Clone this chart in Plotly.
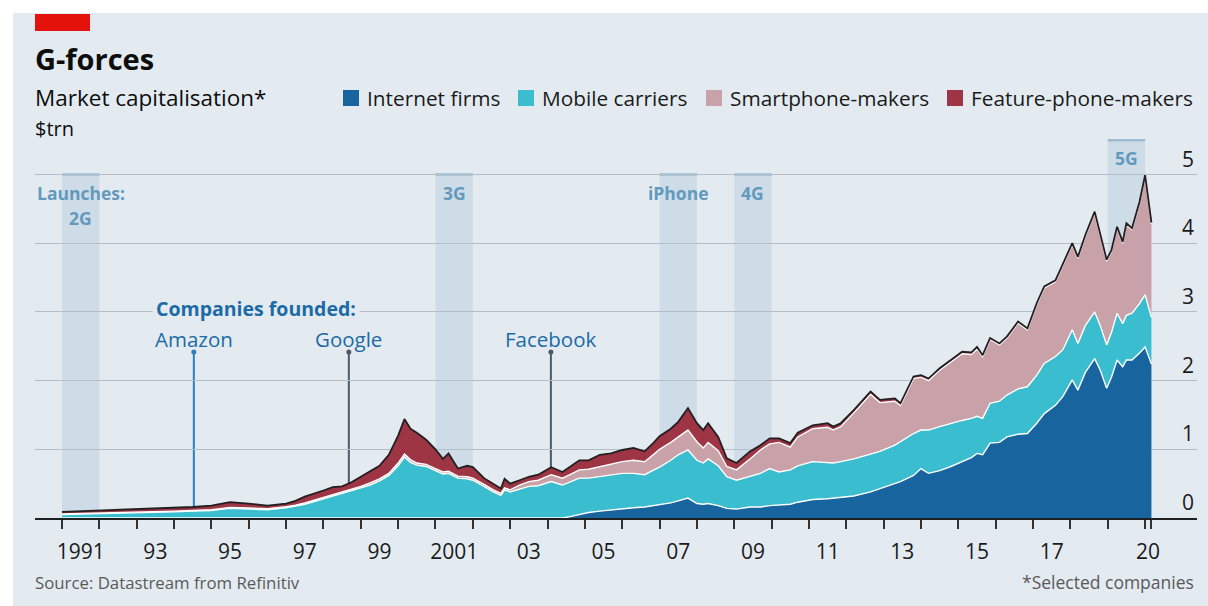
import plotly.graph_objects as go

# ---------------- data ----------------
years = [1991.0, 1991.5, 1992.0, 1992.5, 1993.0, 1993.5, 1994.0, 1994.5, 1995.0, 1995.5,
         1996.0, 1996.5, 1997.0, 1997.25, 1997.5, 1997.75, 1998.0, 1998.25, 1998.5, 1998.75,
         1999.0, 1999.25, 1999.5, 1999.75, 2000.0, 2000.17, 2000.33, 2000.5, 2000.75, 2001.0,
         2001.2, 2001.35, 2001.6, 2001.85, 2002.0, 2002.3, 2002.55, 2002.75, 2002.85, 2003.0,
         2003.25, 2003.5, 2003.75, 2004.1, 2004.4, 2004.6, 2004.85, 2005.1, 2005.4, 2005.7,
         2006.0, 2006.3, 2006.6, 2006.85, 2007.0, 2007.3, 2007.5, 2007.76, 2008.0, 2008.17,
         2008.3, 2008.57, 2008.8, 2009.06, 2009.42, 2009.7, 2009.95, 2010.2, 2010.5, 2010.7,
         2011.1, 2011.5, 2011.65, 2011.85, 2012.2, 2012.65, 2012.9, 2013.3, 2013.45, 2013.8,
         2014.0, 2014.2, 2014.5, 2014.8, 2015.1, 2015.35, 2015.5, 2015.65, 2015.85, 2016.1,
         2016.3, 2016.6, 2016.85, 2017.1, 2017.3, 2017.6, 2017.8, 2018.05, 2018.2, 2018.4,
         2018.65, 2018.8, 2018.97, 2019.1, 2019.25, 2019.4, 2019.5, 2019.65, 2019.85, 2020.0,
         2020.17]

internet = [0, 0, 0, 0, 0, 0, 0, 0, 0, 0,
            0, 0, 0, 0, 0, 0, 0, 0, 0, 0,
            0, 0, 0, 0, 0, 0, 0, 0, 0, 0,
            0, 0, 0, 0, 0, 0, 0, 0, 0, 0,
            0, 0, 0, 0, 0, 0.02, 0.05, 0.08, 0.10, 0.12,
            0.14, 0.15, 0.16, 0.18, 0.19, 0.22, 0.25, 0.29, 0.21, 0.20,
            0.21, 0.18, 0.14, 0.13, 0.16, 0.16, 0.18, 0.19, 0.20, 0.23,
            0.27, 0.28, 0.29, 0.30, 0.32, 0.38, 0.43, 0.51, 0.53, 0.62,
            0.72, 0.65, 0.69, 0.75, 0.82, 0.88, 0.94, 0.92, 1.09, 1.10,
            1.18, 1.22, 1.23, 1.38, 1.52, 1.64, 1.77, 2.01, 1.86, 2.12,
            2.32, 2.15, 1.89, 2.05, 2.30, 2.20, 2.30, 2.30, 2.40, 2.49,
            2.24]

mobile = [0.05, 0.055, 0.06, 0.065, 0.07, 0.08, 0.09, 0.10, 0.11, 0.14,
          0.13, 0.12, 0.15, 0.17, 0.20, 0.24, 0.28, 0.32, 0.36, 0.39,
          0.43, 0.48, 0.54, 0.62, 0.76, 0.89, 0.81, 0.77, 0.75, 0.69,
          0.64, 0.65, 0.58, 0.57, 0.55, 0.46, 0.38, 0.33, 0.41, 0.38,
          0.42, 0.46, 0.47, 0.53, 0.48, 0.50, 0.53, 0.50, 0.50, 0.50,
          0.51, 0.50, 0.47, 0.52, 0.55, 0.62, 0.67, 0.70, 0.63, 0.60,
          0.65, 0.58, 0.46, 0.42, 0.44, 0.49, 0.54, 0.48, 0.50, 0.53,
          0.55, 0.52, 0.51, 0.52, 0.54, 0.55, 0.54, 0.55, 0.58, 0.61,
          0.56, 0.63, 0.64, 0.63, 0.60, 0.57, 0.54, 0.53, 0.58, 0.60,
          0.61, 0.66, 0.68, 0.70, 0.73, 0.71, 0.68, 0.73, 0.68, 0.68,
          0.68, 0.65, 0.63, 0.65, 0.68, 0.63, 0.65, 0.68, 0.72, 0.76,
          0.68]

smartphone = [0.01, 0.01, 0.01, 0.01, 0.01, 0.01, 0.01, 0.01, 0.01, 0.015,
              0.015, 0.015, 0.015, 0.015, 0.02, 0.02, 0.02, 0.02, 0.02, 0.02,
              0.03, 0.03, 0.03, 0.03, 0.04, 0.04, 0.04, 0.03, 0.03, 0.03,
              0.03, 0.03, 0.03, 0.03, 0.03, 0.03, 0.03, 0.03, 0.03, 0.03,
              0.06, 0.07, 0.08, 0.10, 0.10, 0.11, 0.12, 0.13, 0.15, 0.16,
              0.17, 0.19, 0.19, 0.23, 0.26, 0.26, 0.26, 0.29, 0.27, 0.22,
              0.24, 0.22, 0.15, 0.15, 0.26, 0.34, 0.36, 0.43, 0.33, 0.42,
              0.48, 0.52, 0.48, 0.51, 0.67, 0.87, 0.71, 0.64, 0.53, 0.80,
              0.77, 0.72, 0.82, 0.89, 0.97, 0.93, 0.98, 0.90, 0.93, 0.82,
              0.83, 0.96, 0.83, 1.03, 1.10, 1.09, 1.24, 1.24, 1.24, 1.30,
              1.44, 1.32, 1.22, 1.18, 1.24, 1.17, 1.32, 1.22, 1.46, 1.72,
              1.36]

feature = [0.03, 0.035, 0.04, 0.035, 0.04, 0.05, 0.05, 0.05, 0.06, 0.075,
           0.065, 0.045, 0.045, 0.065, 0.09, 0.09, 0.10, 0.11, 0.08, 0.11,
           0.14, 0.17, 0.19, 0.27, 0.40, 0.51, 0.45, 0.44, 0.36, 0.28,
           0.19, 0.26, 0.11, 0.16, 0.16, 0.09, 0.09, 0.07, 0.13, 0.09,
           0.07, 0.07, 0.08, 0.11, 0.09, 0.11, 0.14, 0.13, 0.17, 0.16,
           0.17, 0.18, 0.15, 0.17, 0.19, 0.20, 0.22, 0.32, 0.27, 0.26,
           0.28, 0.20, 0.12, 0.10, 0.11, 0.07, 0.08, 0.06, 0.06, 0.06,
           0.05, 0.06, 0.05, 0.05, 0.04, 0.04, 0.04, 0.04, 0.03, 0.03,
           0.03, 0.03, 0.03, 0.03, 0.03, 0.03, 0.03, 0.02, 0.02, 0.02,
           0.02, 0.02, 0.02, 0.02, 0.02, 0.02, 0.02, 0.02, 0.02, 0.02,
           0.02, 0.02, 0.02, 0.02, 0.02, 0.02, 0.02, 0.02, 0.02, 0.02,
           0.02]

series_names = ["Internet firms", "Mobile carriers", "Smartphone-makers", "Feature-phone-makers"]

launch_labels = ["2G", "3G", "iPhone", "4G", "5G"]
launch_start = [1991, 2001, 2007, 2009, 2019]
launch_end = [1992, 2002, 2008, 2010, 2020]

companies = ["Amazon", "Google", "Facebook"]
founded = [1994.53, 1998.68, 2004.09]

x_tick_vals = [1991.5, 1993.5, 1995.5, 1997.5, 1999.5, 2001.5, 2003.5, 2005.5,
               2007.5, 2009.5, 2011.5, 2013.5, 2015.5, 2017.5, 2020.08]
x_tick_text = ["1991", "93", "95", "97", "99", "2001", "03", "05",
               "07", "09", "11", "13", "15", "17", "20"]
year_ticks = list(range(1991, 2021)) + [2020.17]
y_ticks = [0, 1, 2, 3, 4, 5]

# ---------------- styling ----------------
FONT = "Open Sans"
BG = "#e3ebf1"
series_colors = ["#17649f", "#3bbdd0", "#c9a1a9", "#9d3545"]
line_colors = ["#ffffff", "#ffffff", "#ffffff", "#231f20"]
line_widths = [1.4, 1.4, 1.4, 1.8]
BAND_FILL = "rgba(160,190,212,0.32)"
BAND_LINE = "#9dbcd1"
LABEL_BLUE = "#6399bd"
COMP_BLUE = "#1c6aa6"

W, H = 1208, 606
L, R, T, B = 35, 1197, 130, 518
Y_MAX = 5.648


def fx(px):
    return (px - L) / (R - L)


def fy(py):
    return (B - py) / (B - T)


def vy(py):
    return (B - py) / (B - T) * Y_MAX


fig = go.Figure()

series_values = [internet, mobile, smartphone, feature]
for name, vals, col, lc, lw in zip(series_names, series_values, series_colors, line_colors, line_widths):
    fig.add_trace(go.Scatter(
        x=years, y=vals, name=name, stackgroup="one", mode="lines",
        line=dict(color=lc, width=lw), fillcolor=col, showlegend=False,
        hoverinfo="x+y+name"))

# founding-date dots
fig.add_trace(go.Scatter(
    x=founded, y=[vy(352)] * len(founded), mode="markers", showlegend=False,
    marker=dict(size=5, color=["#2a80c0", "#4d5a66", "#4d5a66"]), hoverinfo="skip"))

shapes = []
annotations = []

# launch bands
for lab, s, e in zip(launch_labels, launch_start, launch_end):
    top = 5.5 if lab == "5G" else 5.0
    shapes.append(dict(type="rect", xref="x", yref="y", x0=s, x1=e, y0=0, y1=top,
                       fillcolor=BAND_FILL, line=dict(width=0), layer="below"))
    shapes.append(dict(type="line", xref="x", yref="y", x0=s, x1=e, y0=top, y1=top,
                       line=dict(color=BAND_LINE, width=2.5), layer="below"))
    if lab == "2G":
        ly = vy(218)
    elif lab == "5G":
        ly = vy(158)
    else:
        ly = vy(193)
    annotations.append(dict(x=(s + e) / 2, y=ly, xref="x", yref="y", text="<b>%s</b>" % lab,
                            showarrow=False, xanchor="center", yanchor="middle",
                            font=dict(family=FONT, size=17.5, color=LABEL_BLUE)))
annotations.append(dict(x=fx(35), y=vy(193), xref="paper", yref="y", text="<b>Launches:</b>",
                        showarrow=False, xanchor="left", yanchor="middle",
                        font=dict(family=FONT, size=17.5, color=LABEL_BLUE)))

# founding lines + labels
line_cols = ["#2a80c0", "#4d5a66", "#4d5a66"]
for comp, fyr, lc in zip(companies, founded, line_cols):
    shapes.append(dict(type="line", xref="x", yref="y", x0=fyr, x1=fyr, y0=0, y1=vy(352),
                       line=dict(color=lc, width=2), layer="below"))
    annotations.append(dict(x=fyr, y=vy(339), xref="x", yref="y", text=comp, showarrow=False,
                            xanchor="center", yanchor="middle",
                            font=dict(family=FONT, size=20.5, color=COMP_BLUE)))
annotations.append(dict(x=fx(152), y=vy(308), xref="paper", yref="y",
                        text="<b>Companies founded:</b>", showarrow=False,
                        xanchor="left", yanchor="middle", bgcolor=BG, borderpad=3,
                        font=dict(family=FONT, size=19.5, color=COMP_BLUE)))

# y tick labels (right side, above gridlines)
for v in y_ticks:
    annotations.append(dict(x=fx(1196), y=v, xref="paper", yref="y", text=str(v),
                            showarrow=False, xanchor="right", yanchor="bottom", yshift=0,
                            font=dict(family=FONT, size=21, color="#1a1a1a")))

# titles
annotations.append(dict(x=fx(33), y=fy(58), xref="paper", yref="paper", text="<b>G-forces</b>",
                        showarrow=False, xanchor="left", yanchor="middle",
                        font=dict(family=FONT, size=29, color="#0d0d0d")))
annotations.append(dict(x=fx(33), y=fy(97), xref="paper", yref="paper",
                        text="Market capitalisation*", showarrow=False,
                        xanchor="left", yanchor="middle",
                        font=dict(family=FONT, size=22.5, color="#0d0d0d")))
annotations.append(dict(x=fx(33), y=fy(128), xref="paper", yref="paper", text="$trn",
                        showarrow=False, xanchor="left", yanchor="middle",
                        font=dict(family=FONT, size=20, color="#0d0d0d")))

# legend (manual)
sw_left = [343, 518, 706, 947]
for name, col, sx in zip(series_names, series_colors, sw_left):
    shapes.append(dict(type="rect", xref="paper", yref="paper", x0=fx(sx), x1=fx(sx + 16),
                       y0=fy(106), y1=fy(90), fillcolor=col, line=dict(width=0)))
    annotations.append(dict(x=fx(sx + 22), y=fy(98), xref="paper", yref="paper", text=name,
                            showarrow=False, xanchor="left", yanchor="middle",
                            font=dict(family=FONT, size=20.8, color="#1a1a1a")))

# footer
annotations.append(dict(x=fx(33), y=fy(582), xref="paper", yref="paper",
                        text="Source: Datastream from Refinitiv", showarrow=False,
                        xanchor="left", yanchor="middle",
                        font=dict(family=FONT, size=16.8, color="#595959")))
annotations.append(dict(x=fx(1196), y=fy(582), xref="paper", yref="paper",
                        text="*Selected companies", showarrow=False,
                        xanchor="right", yanchor="middle",
                        font=dict(family=FONT, size=17.5, color="#595959")))

# red tag and white outer margins
shapes.append(dict(type="rect", xref="paper", yref="paper", x0=fx(35), x1=fx(90),
                   y0=fy(31), y1=fy(14), fillcolor="#e3120b", line=dict(width=0)))
shapes.append(dict(type="rect", xref="paper", yref="paper", x0=fx(0), x1=fx(13),
                   y0=fy(606), y1=fy(0), fillcolor="white", line=dict(width=0), layer="above"))
shapes.append(dict(type="rect", xref="paper", yref="paper", x0=fx(0), x1=fx(1208),
                   y0=fy(13), y1=fy(0), fillcolor="white", line=dict(width=0), layer="above"))

fig.update_layout(
    width=W, height=H, autosize=False,
    margin=dict(l=L, r=W - R, t=T, b=H - B, pad=0),
    paper_bgcolor=BG, plot_bgcolor=BG,
    font=dict(family=FONT, color="#1a1a1a"),
    shapes=shapes, annotations=annotations,
    showlegend=False,
    xaxis=dict(range=[1990.277, 2021.39], tickmode="array", tickvals=x_tick_vals,
               ticktext=x_tick_text, ticks="outside", ticklen=14, tickcolor="rgba(0,0,0,0)",
               tickfont=dict(family=FONT, size=21, color="#1a1a1a"),
               showgrid=False, zeroline=False, showline=True, linecolor="#1f1f1f", linewidth=2,
               minor=dict(tickmode="array", tickvals=year_ticks, ticks="outside", ticklen=9,
                          tickwidth=2, tickcolor="#333333", showgrid=False),
               fixedrange=True),
    yaxis=dict(range=[0, Y_MAX], tickmode="array", tickvals=y_ticks, showticklabels=False,
               ticks="", showgrid=True, gridcolor="#b2bec8", gridwidth=1.2, zeroline=False,
               showline=False, fixedrange=True),
)

fig.write_html("out.html", config={"displayModeBar": False},
               post_script="document.body.style.margin='0';document.body.style.padding='0';"
                           "document.documentElement.style.overflow='hidden';")
